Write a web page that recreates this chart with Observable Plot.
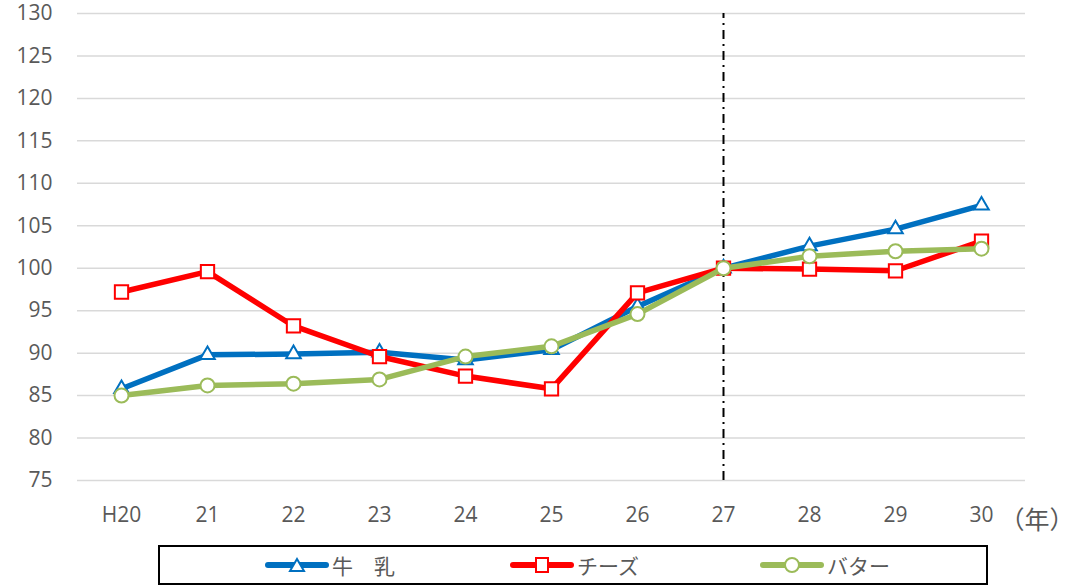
<!DOCTYPE html>
<html><head><meta charset="utf-8">
<script src="https://cdn.jsdelivr.net/npm/d3@7"></script>
<script src="https://cdn.jsdelivr.net/npm/@observablehq/plot@0.6"></script>
<style>
body{margin:0;background:#fff;font-family:"Noto Sans CJK JP",sans-serif;}
#chart{position:relative;width:1084px;height:587px;}
#legend{position:absolute;left:158px;top:545px;width:830px;height:40px;border:2px solid #000;box-sizing:border-box;}
.item{position:absolute;top:0;height:36px;display:flex;align-items:center;font-size:21px;color:#595959;}
.item svg{margin-right:3px;}
</style></head>
<body><div id="chart"><div id="legend"></div></div>
<script>
const years = ["H20","21","22","23","24","25","26","27","28","29","30"];
const milk   = [85.8, 89.8, 89.9, 90.1, 89.2, 90.4, 95.5, 100, 102.6, 104.6, 107.4];
const cheese = [97.2, 99.6, 93.2, 89.6, 87.3, 85.8, 97.1, 100, 99.9, 99.7, 103.2];
const butter = [85.0, 86.2, 86.4, 86.9, 89.6, 90.8, 94.6, 100, 101.4, 102.0, 102.3];
const seriesNames = ["牛　乳","チーズ","バター"];
const colors = ["#0070c0","#ff0000","#9bbb59"];
const symbols = ["triangle","square","circle"];
const yTicks = d3.range(75, 131, 5);

const series = [milk, cheese, butter].map((vals, i) =>
  years.map((y, j) => ({year: y, value: vals[j], name: seriesNames[i]})));

const marks = [
  Plot.gridY(yTicks, {stroke: "#d9d9d9", strokeOpacity: 1, strokeWidth: 1.5}),
  Plot.axisY(yTicks, {tickSize: 0, tickPadding: 25, fontSize: 21, fill: "#595959"}),
  Plot.axisX({tickSize: 0, tickPadding: 27, fontSize: 21, fill: "#595959"}),
  Plot.ruleX(["27"], {y1: 75, y2: 130, stroke: "#000", strokeWidth: 2, strokeDasharray: "9,5,2,5"}),
];
const radii = [5.4, 7.5, 7];
series.forEach((data, i) => {
  marks.push(Plot.line(data, {x: "year", y: "value", stroke: colors[i], strokeWidth: 5.5, strokeLinejoin: "round"}));
  marks.push(Plot.dot(data, {x: "year", y: "value", symbol: () => symbols[i], r: radii[i], fill: "#fff", stroke: colors[i], strokeWidth: 2}));
});
marks.push(Plot.text(["（年）"], {frameAnchor: "bottom-right", textAnchor: "start", dx: -26, dy: 48, fontSize: 25, fill: "#595959", fontFamily: "Noto Sans CJK JP"}));

const chart = Plot.plot({
  width: 1084, height: 537,
  marginTop: 13, marginBottom: 57, marginLeft: 77, marginRight: 59,
  style: {fontFamily: "'Open Sans', sans-serif", fontSize: "21px", background: "#fff", overflow: "visible"},
  x: {type: "point", domain: years, padding: 0.5, label: null},
  y: {domain: [75, 130], label: null},
  marks
});
document.getElementById("chart").prepend(chart);

const legend = document.getElementById("legend");
const lx = [105, 350, 600];
seriesNames.forEach((n, i) => {
  const d = document.createElement("div");
  d.className = "item";
  d.style.left = lx[i] + "px";
  let sym = "";
  if (i === 0) sym = `<path d="M32,4 L39,16 L25,16 Z" fill="#fff" stroke="${colors[i]}" stroke-width="2"/>`;
  if (i === 1) sym = `<rect x="26" y="3" width="12" height="14" fill="#fff" stroke="${colors[i]}" stroke-width="2"/>`;
  if (i === 2) sym = `<circle cx="32" cy="10" r="7" fill="#fff" stroke="${colors[i]}" stroke-width="2"/>`;
  d.innerHTML = `<svg width="64" height="20"><line x1="3" y1="10" x2="61" y2="10" stroke="${colors[i]}" stroke-width="6" stroke-linecap="round"/>${sym}</svg><span>${n}</span>`;
  legend.appendChild(d);
});
</script></body></html>
